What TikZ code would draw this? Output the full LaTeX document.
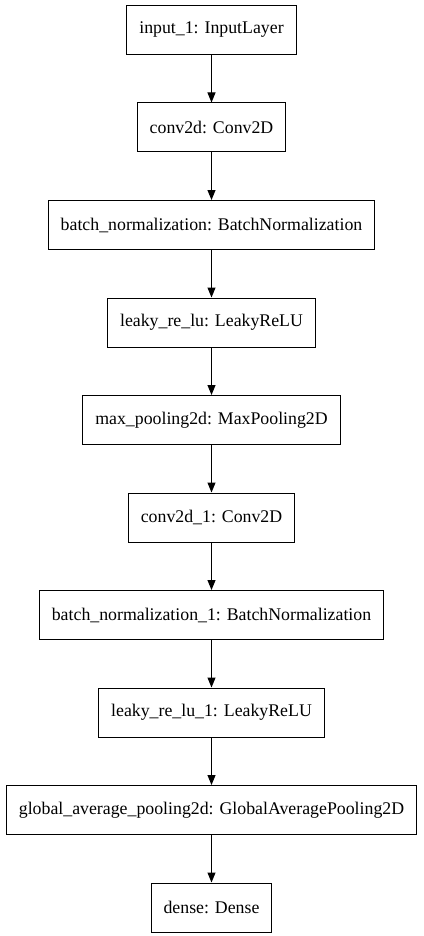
\documentclass[tikz,border=0pt]{standalone}
\usepackage{fontspec}
\setmainfont{Liberation Serif}
\usepackage{tikz}
\usetikzlibrary{positioning,arrows.meta}

\begin{document}
\begin{tikzpicture}[
    x=1pt, y=1pt,
    node distance=47.5pt,
    layer/.style={rectangle, draw=black, line width=1pt, font=\fontsize{17.8pt}{20pt}\selectfont, inner xsep=12.5pt, minimum height=49pt},
    line/.style={draw=black, line width=1pt, -{Triangle[length=10pt,width=8pt]}}
]
    \useasboundingbox (0,0) rectangle (423,-936);
    \node [layer] (input) at (211.5,-30) {input\_1: InputLayer};
    \node [layer, below=of input] (conv) {conv2d: Conv2D};
    \node [layer, below=of conv] (bn) {batch\_normalization: BatchNormalization};
    \node [layer, below=of bn] (lrelu) {leaky\_re\_lu: LeakyReLU};
    \node [layer, below=of lrelu] (pool) {max\_pooling2d: MaxPooling2D};
    \node [layer, below=of pool] (convb) {conv2d\_1: Conv2D};
    \node [layer, below=of convb] (bnb) {batch\_normalization\_1: BatchNormalization};
    \node [layer, below=of bnb] (lrelub) {leaky\_re\_lu\_1: LeakyReLU};
    \node [layer, below=of lrelub] (gap) {global\_average\_pooling2d: GlobalAveragePooling2D};
    \node [layer, below=of gap] (dense) {dense: Dense};

    \path [line] (input) -- (conv);
    \path [line] (conv) -- (bn);
    \path [line] (bn) -- (lrelu);
    \path [line] (lrelu) -- (pool);
    \path [line] (pool) -- (convb);
    \path [line] (convb) -- (bnb);
    \path [line] (bnb) -- (lrelub);
    \path [line] (lrelub) -- (gap);
    \path [line] (gap) -- (dense);
\end{tikzpicture}
\end{document}
